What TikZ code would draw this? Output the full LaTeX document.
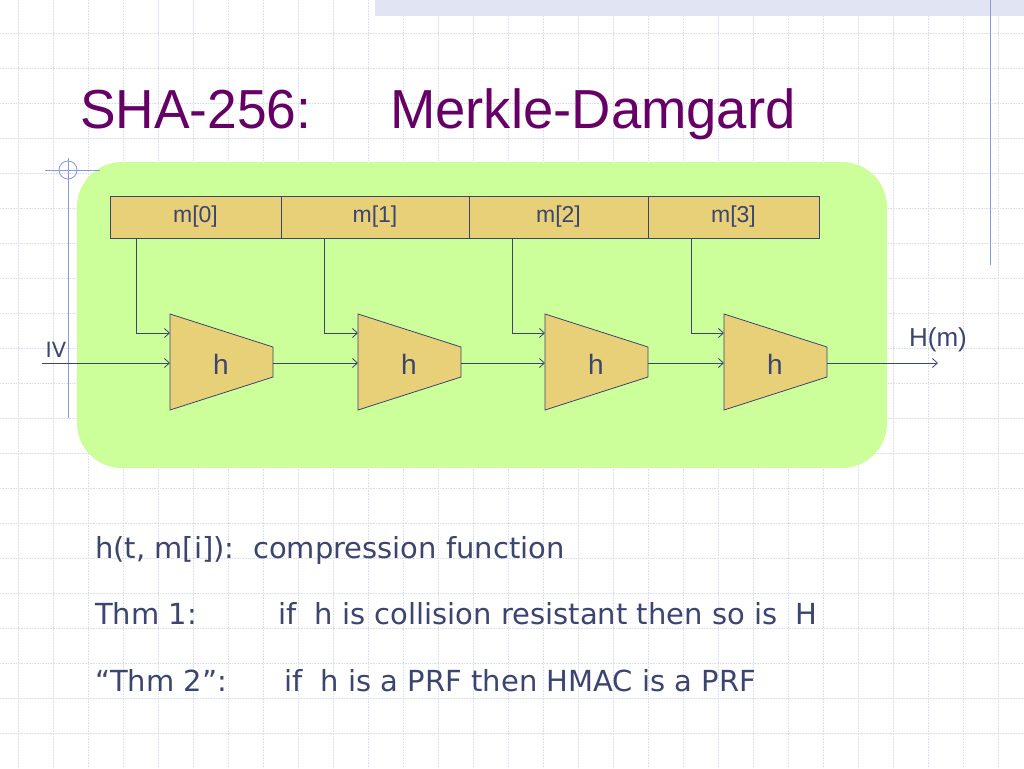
\documentclass[tikz,border=0pt]{standalone}
\usepackage{fontspec}
\setmainfont{DejaVu Sans}
\newfontfamily\lib{Liberation Sans}
\newfontfamily\dvs{DejaVu Sans}
\usetikzlibrary{arrows.meta}
\definecolor{grid}{HTML}{D8DEF0}
\definecolor{titlec}{HTML}{660066}
\definecolor{lgreen}{HTML}{CCFF99}
\definecolor{boxc}{HTML}{E8D078}
\definecolor{linec}{HTML}{3C4470}
\definecolor{bluel}{HTML}{8899DD}
\tikzset{
 blk/.style={draw=linec,fill=boxc,line width=0.8pt},
 mbox/.style={draw=linec,fill=boxc,line width=0.8pt,minimum height=42pt,inner sep=0pt,font=\lib\fontsize{23}{23}\selectfont,text=linec},
 arr/.style={draw=linec,line width=0.8pt,-{Straight Barb[length=5pt,width=9pt]}},
 lbl/.style={font=\lib\fontsize{22}{22}\selectfont,text=linec},
 txt/.style={anchor=base west,font=\dvs\fontsize{29}{29}\selectfont,text=linec,inner sep=0pt},
 ttl/.style={anchor=base west,font=\lib\fontsize{55}{55}\selectfont,text=titlec,inner sep=0pt}
}
\begin{document}
\begin{tikzpicture}[x=1pt,y=-1pt]
\useasboundingbox (0,0) rectangle (1024,768);
\fill[white] (0,0) rectangle (1024,768);
\foreach \x in {18,53,88,123,158,193,228,263,298,333,368,403,438,473,508,543,578,613,648,683,718,753,788,823,858,893,928,963,998}
  \draw[grid,densely dotted,line width=0.6pt] (\x,0) -- (\x,768);
\foreach \y in {33,68,103,138,173,208,243,278,313,348,383,418,453,488,523,558,593,628,663,698,733}
  \draw[grid,densely dotted,line width=0.6pt] (0,\y) -- (1024,\y);
\fill[grid!80] (375,0) rectangle (1024,16);
\draw[bluel,line width=1pt] (990,0) -- (990,265);
\fill[lgreen,rounded corners=45pt] (77,162) rectangle (887,468);
\draw[bluel,line width=1pt] (68,158) -- (68,418);
\draw[bluel,line width=1pt] (45,170) -- (100,170);
\draw[bluel,line width=0.8pt] (68,170) circle (9);
\node[ttl,xscale=0.97] (title) at (80,128) {SHA-256:};
\node[ttl,xscale=0.99] (title2) at (390,128) {Merkle-Damgard};
\node[mbox,minimum width=171pt] (m0) at (195.5,217) {m[0]};
\node[mbox,minimum width=188pt] (m1) at (375,217) {m[1]};
\node[mbox,minimum width=179pt] (m2) at (558.5,217) {m[2]};
\node[mbox,minimum width=171pt] (m3) at (733.5,217) {m[3]};
\foreach \i/\x/\mx in {0/170/136,1/358/324,2/545/512,3/724/691}{
  \draw[blk] (\x,314) -- (\x+103,347) -- (\x+103,377) -- (\x,410) -- cycle;
  \node[lbl,font=\lib\fontsize{28}{28}\selectfont] (h\i) at (\x+51,364) {h};
  \coordinate (in\i) at (\x,363);
  \coordinate (top\i) at (\x,333);
  \coordinate (out\i) at (\x+103,363);
  \coordinate (mb\i) at (\mx,238);
  \draw[arr] (mb\i) |- (top\i);
}
\node[lbl,font=\fontsize{21}{21}\selectfont\rmfamily,inner sep=0pt] (iv) at (56,350) {IV};
\coordinate (ivs) at (42,363);
\draw[arr] (ivs) -- (in0);
\draw[arr] (out0) -- (in1);
\draw[arr] (out1) -- (in2);
\draw[arr] (out2) -- (in3);
\coordinate (hend) at (938,363);
\draw[arr] (out3) -- (hend);
\node[lbl,font=\lib\fontsize{26}{26}\selectfont] (hm) at (938,340) {H(m)};
\node[txt] (t1) at (95,558) {h(t, m[i]):\ \ compression function};
\node[txt] (t2) at (95,624) {Thm 1:};
\node[txt] (t2b) at (278,624) {if\ \ h is collision resistant then so is\ \ H};
\node[txt] (t3) at (95,691) {“Thm 2”:};
\node[txt] (t3b) at (284,691) {if\ \ h is a PRF then HMAC is a PRF};
\end{tikzpicture}
\end{document}
